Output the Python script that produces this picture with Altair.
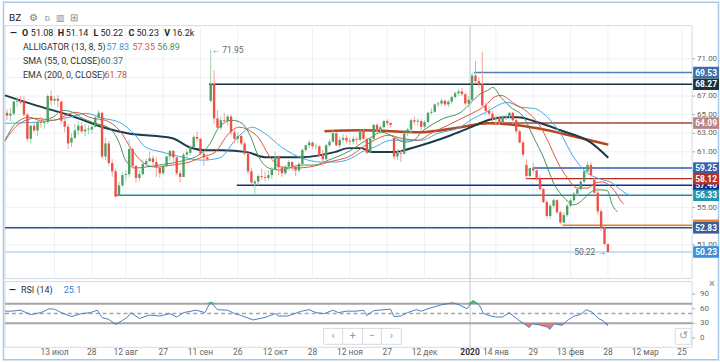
import altair as alt
import pandas as pd

# ---------------- data ----------------
OPEN = [65.2, 64.9, 65.1, 66.4, 66.5, 66.5, 65.0, 62.4, 63.8, 63.3,
        64.2, 64.1, 64.2, 67.0, 66.5, 66.7, 66.4, 64.3, 63.7, 62.0,
        62.5, 63.3, 63.8, 63.2, 63.4, 63.4, 63.7, 64.7, 65.2, 60.5,
        61.9, 59.8, 58.9, 56.3, 57.4, 58.5, 58.6, 61.3, 59.5, 58.2,
        58.6, 59.7, 60.0, 60.3, 59.9, 59.3, 58.7, 59.5, 60.5, 61.1,
        60.4, 58.7, 58.3, 60.7, 60.9, 61.5, 62.6, 62.4, 60.8, 60.4,
        66.5, 68.3, 64.6, 63.6, 64.4, 64.3, 64.8, 63.1, 62.4, 62.7,
        61.9, 60.8, 58.9, 57.6, 57.8, 58.4, 58.3, 58.2, 58.5, 59.1,
        60.5, 59.3, 58.7, 59.4, 59.9, 59.4, 59.0, 59.7, 61.2, 61.7,
        62.0, 61.6, 61.6, 60.6, 60.2, 61.7, 62.1, 63.0, 61.7, 62.3,
        62.5, 62.2, 62.1, 62.4, 62.3, 63.3, 62.4, 60.9, 62.4, 63.9,
        63.4, 63.65, 64.3, 64.1, 62.5, 60.5, 60.9, 60.8, 63.0, 63.4,
        64.4, 64.25, 64.3, 63.7, 64.2, 65.2, 65.3, 66.1, 66.2, 66.5,
        66.1, 66.4, 66.9, 67.3, 67.5, 67.2, 66.2, 66.6, 69.2, 68.6,
        68.3, 66.0, 65.4, 65.1, 64.5, 64.6, 64.2, 64.7, 64.85, 65.2,
        64.4, 63.2, 62.0, 59.6, 58.4, 59.2, 59.0, 58.2, 57.0, 55.6,
        54.1, 55.2, 55.8, 54.5, 53.4, 54.2, 55.2, 55.8, 56.5, 57.0,
        57.8, 58.9, 59.6, 58.0, 56.6, 54.6, 52.8, 51.08]
HIGH = [65.6, 65.7, 66.6, 66.9, 67.0, 67.0, 65.2, 63.9, 64.1, 64.5,
        64.8, 64.5, 67.2, 67.6, 67.0, 67.1, 66.5, 64.7, 64.0, 63.0,
        64.0, 64.3, 64.2, 64.0, 63.9, 64.0, 65.0, 65.5, 65.3, 62.5,
        62.2, 60.2, 59.2, 57.8, 58.8, 59.0, 62.3, 61.4, 59.5, 59.0,
        60.2, 60.3, 61.0, 60.6, 60.4, 59.5, 59.7, 60.6, 61.2, 61.2,
        60.4, 59.0, 60.9, 61.3, 61.7, 62.8, 63.2, 62.5, 61.0, 60.8,
        71.95, 69.8, 65.5, 64.8, 65.2, 65.0, 65.0, 63.3, 63.1, 62.9,
        62.1, 60.9, 59.3, 58.0, 58.6, 59.2, 58.9, 59.0, 59.4, 61.0,
        60.6, 59.5, 59.6, 60.1, 60.0, 59.6, 59.9, 61.4, 61.8, 62.3,
        62.1, 61.9, 61.7, 61.2, 61.9, 62.4, 63.4, 63.1, 62.6, 62.9,
        62.8, 62.5, 62.7, 62.6, 63.4, 63.5, 62.5, 62.5, 64.0, 64.1,
        63.8, 64.4, 64.5, 64.2, 62.7, 61.3, 61.2, 63.1, 63.6, 64.6,
        64.8, 64.6, 64.5, 64.4, 65.3, 65.7, 66.2, 66.4, 66.7, 66.6,
        66.6, 67.0, 67.5, 67.8, 67.9, 67.3, 67.0, 69.5, 70.8, 69.0,
        71.75, 66.3, 65.9, 65.4, 64.9, 64.8, 64.9, 65.0, 65.3, 65.3,
        64.6, 63.4, 62.2, 60.2, 59.3, 59.8, 59.1, 58.5, 57.1, 55.8,
        55.4, 56.0, 55.9, 54.7, 54.5, 55.4, 56.0, 56.7, 57.2, 58.0,
        59.0, 59.9, 59.9, 58.2, 57.1, 54.8, 53.0, 51.14]
LOW = [64.4, 64.3, 64.9, 65.8, 66.1, 64.8, 62.1, 61.9, 63.1, 62.7,
       63.6, 63.5, 64.0, 66.0, 66.1, 65.8, 64.0, 63.1, 61.3, 61.5,
       62.4, 62.8, 63.0, 62.7, 62.9, 62.9, 63.6, 64.4, 60.3, 60.1,
       59.5, 58.3, 56.1, 56.2, 57.2, 57.9, 58.3, 59.2, 57.7, 57.8,
       58.5, 59.4, 59.9, 59.5, 58.3, 58.2, 58.5, 59.4, 60.0, 59.9,
       58.5, 57.7, 58.3, 60.2, 60.6, 61.4, 62.1, 60.6, 59.5, 60.0,
       66.3, 64.0, 63.4, 63.3, 64.0, 63.8, 62.8, 61.9, 62.0, 61.7,
       60.6, 58.6, 57.5, 56.5, 57.4, 58.0, 57.8, 57.9, 58.1, 59.0,
       58.5, 58.3, 58.5, 59.0, 59.0, 58.4, 58.8, 59.3, 61.0, 61.4,
       61.3, 61.2, 60.4, 59.5, 60.1, 61.5, 62.0, 61.6, 61.4, 62.0,
       61.9, 61.7, 61.8, 61.7, 62.1, 62.3, 60.7, 60.8, 62.3, 63.0,
       63.1, 63.5, 63.8, 63.6, 60.2, 60.1, 59.9, 60.7, 62.7, 63.0,
       63.9, 63.8, 63.3, 63.5, 64.1, 65.0, 65.2, 65.8, 65.9, 65.9,
       65.8, 66.2, 66.7, 67.0, 67.0, 66.0, 65.8, 66.4, 68.4, 67.9,
       65.7, 65.0, 64.9, 64.2, 64.0, 63.9, 64.1, 64.4, 64.6, 64.0,
       63.0, 61.9, 60.5, 58.1, 58.1, 58.7, 57.9, 56.8, 55.5, 53.9,
       53.8, 54.9, 54.3, 53.2, 53.3, 54.0, 55.0, 55.5, 56.2, 56.8,
       57.6, 58.7, 58.3, 56.4, 54.2, 52.5, 50.9, 50.22]
CLOSE = [64.9, 65.1, 66.4, 66.5, 66.3, 65.0, 62.4, 63.8, 63.3, 64.2,
         64.1, 64.2, 67.0, 66.5, 66.7, 66.5, 64.35, 63.7, 61.9, 62.5,
         63.3, 63.8, 63.2, 63.4, 63.5, 63.7, 64.7, 65.2, 60.5, 61.9,
         59.8, 58.9, 56.2, 57.4, 58.5, 58.6, 61.3, 59.5, 58.2, 58.6,
         59.7, 60.0, 60.3, 59.9, 59.3, 58.7, 59.5, 60.5, 61.1, 60.4,
         58.7, 58.3, 60.7, 60.95, 61.5, 62.6, 62.4, 60.8, 60.4, 60.2,
         68.3, 64.6, 63.6, 64.4, 64.3, 64.8, 63.1, 62.4, 62.7, 61.9,
         60.8, 58.9, 57.7, 57.8, 58.4, 58.3, 58.2, 58.5, 59.1, 60.5,
         59.35, 58.7, 59.4, 59.9, 59.4, 59.0, 59.7, 61.2, 61.7, 62.0,
         61.6, 61.65, 60.6, 60.2, 61.7, 62.1, 63.0, 61.7, 62.3, 62.5,
         62.2, 62.1, 62.4, 62.3, 63.3, 62.4, 60.9, 62.4, 63.9, 63.4,
         63.65, 64.3, 64.1, 63.9, 60.5, 60.9, 60.8, 62.96, 63.4, 64.4,
         64.25, 64.35, 63.7, 64.2, 65.2, 65.3, 66.1, 66.2, 66.5, 66.1,
         66.4, 66.9, 67.3, 67.5, 67.2, 66.2, 66.6, 69.2, 68.6, 68.3,
         66.0, 65.4, 65.1, 64.5, 64.6, 64.2, 64.7, 64.85, 65.2, 64.4,
         63.2, 62.0, 60.7, 58.4, 59.25, 59.0, 58.2, 57.0, 55.6, 54.1,
         55.2, 55.8, 54.5, 53.4, 54.2, 55.2, 55.8, 56.5, 57.0, 57.8,
         58.9, 59.6, 58.5, 56.6, 54.6, 52.8, 51.1, 50.23]

JAW_I = [-0.6, 8.5, 13.5, 18.5, 23.2, 28.2, 33.1, 37.8, 40.8, 45.7, 51.6, 57.5, 62.5, 67.2, 69.2,
         72.1, 75.9, 80.9, 86.8, 92.7, 96.5, 101.5, 104.4, 108.2, 113.2, 117, 122, 127, 132.8,
         137.5, 141, 147.5, 151.3, 155.1, 159.2, 163, 166.9, 171, 173.9, 175.7, 177.7, 179.8,
         181.6, 183.6]
JAW_V = [64.07, 64.18, 64.39, 64.72, 65.14, 64.61, 64.18, 62.79, 61.5, 60.97, 60.43, 60.11, 60.33,
         62.25, 63.0, 63.65, 63.0, 61.5, 60.33, 59.9, 59.9, 60.33, 60.97, 61.5, 62.25, 62.25, 62.25,
         63.0, 63.54, 64.61, 65.25, 66.32, 65.79, 65.68, 64.72, 63.0, 60.43, 58.72, 58.18, 57.97,
         57.76, 57.22, 56.69, 56.26]
TEETH_I = [-0.6, 3.8, 8.5, 13.5, 20.2, 25.2, 29, 33.1, 36.9, 39.9, 43.7, 48.7, 53.7, 57.5, 61.3,
           65.4, 68.3, 71.3, 74.2, 77.1, 80.9, 84.8, 88.9, 94.7, 101.5, 104.4, 108.2, 112.3, 116.1,
           121.1, 124.9, 129.9, 134.6, 138.7, 141, 143.4, 145.5, 149.3, 153.4, 157.2, 159.2, 162.2,
           165.1, 168, 171, 173.3, 175.4, 177.2, 179.2, 180.6, 181.6]
TEETH_V = [62.2, 64.07, 64.61, 64.39, 65.25, 64.61, 64.39, 63.32, 61.18, 59.9, 59.36, 59.58, 59.9,
           60.43, 60.97, 63.0, 63.65, 63.32, 62.47, 60.65, 59.36, 59.26, 59.36, 59.9, 60.65, 61.4,
           62.25, 62.79, 62.47, 62.25, 63.0, 63.86, 64.72, 65.46, 66.0, 66.86, 67.07, 66.21, 65.25,
           63.65, 62.25, 59.9, 58.18, 57.11, 57.11, 57.65, 57.76, 57.44, 56.69, 55.83, 55.4]
LIPS_I = [-0.6, 2.6, 6.7, 9.7, 13.5, 16.4, 19.4, 22.3, 26.1, 30.2, 33.1, 34.9, 37.8, 40.8, 44.9,
          48.7, 52.5, 55.4, 59.5, 62.5, 66.3, 69.2, 71.3, 74.2, 77.1, 80.9, 83.9, 86.8, 90.6, 94.7,
          98.5, 102.3, 104.4, 107.3, 110.3, 114.1, 117, 119.9, 122, 124, 128.7, 133.7, 136.7,
          139.6, 141.6, 143.1, 145.5, 148.4, 152.2, 155.1, 158.1, 161, 163.9, 166.9, 168.9, 171,
          173.3, 175.4, 176.9, 178.3, 179.8]
LIPS_V = [62.2, 64.07, 64.72, 64.39, 64.72, 65.46, 65.25, 64.61, 64.07, 63.54, 61.93, 60.11, 59.26,
          59.36, 59.58, 59.79, 60.11, 60.43, 61.72, 63.65, 64.39, 64.07, 63.0, 60.43, 59.26, 59.04,
          59.36, 59.58, 59.58, 60.11, 60.65, 61.4, 61.93, 62.57, 63.11, 62.57, 62.04, 62.25, 63.11,
          63.65, 64.61, 65.25, 66.32, 67.28, 67.61, 67.93, 66.86, 65.79, 64.72, 62.57, 60.33,
          57.65, 56.15, 55.3, 55.62, 56.36, 56.9, 56.9, 56.8, 55.3, 54.55]
SMA_I = [-0.6, 8.5, 18.5, 28.2, 35.5, 48.7, 53.7, 58.4, 63.3, 70.7, 75.9, 86.8, 96.5, 100.6, 104.4,
         107.3, 114.1, 117, 124, 130.8, 136.7, 141.6, 146.3, 150.4, 156.3, 163, 171.8, 177.1]
SMA_V = [67.07, 66.0, 64.93, 63.65, 63.0, 62.47, 61.5, 61.18, 61.18, 60.97, 60.43, 60.43, 60.97,
         61.4, 61.4, 60.97, 60.97, 61.18, 61.93, 62.79, 63.65, 64.39, 64.72, 64.72, 64.18, 63.32,
         62.04, 60.37]
EMA_I = [93.5, 104.4, 122, 133.7, 141.6, 150.4, 159.2, 168, 177.1]
EMA_V = [63.22, 63.32, 63.11, 63.65, 64.07, 63.86, 63.32, 62.57, 61.78]

RSI_I = [-0.6, 1.5, 4, 7, 10, 12.5, 14, 16, 19, 22, 24.6, 26.6, 28, 30, 32, 34, 35.5, 36.5, 39,
         42, 45, 48, 50, 52, 55.7, 58.3, 60, 62, 65, 67, 69, 72.5, 76, 79, 80, 82.7, 86.8, 89,
         91, 93.5, 96, 97.6, 100, 103, 105, 106, 108, 111, 113, 114, 116, 118, 120.6, 122, 124,
         126, 127.9, 131.3, 133.2, 135.5, 137.3, 139.1, 140.4, 142, 144, 146, 147.9, 150.8, 152.3,
         153.8, 154.7, 156.7, 159.1, 159.9, 161.1, 163.5, 164.5, 165.5, 167, 168.9, 170.6, 172.3,
         174.3, 175.8, 177]
RSI_V = [55, 55, 57, 48, 52, 60, 59, 52, 44, 50, 52, 57, 42, 38, 28, 36, 43, 52, 40, 47, 45, 50,
         43, 52, 57, 52, 74, 58, 57, 50, 46, 37, 42, 50, 45, 45, 55, 58, 52, 50, 57, 52, 55, 55,
         57, 46, 56, 58, 59, 44, 45, 52, 58, 55, 60, 64, 68, 72, 68, 60, 77, 67, 50, 46, 43, 43,
         52, 36, 29.4, 21.3, 29, 27, 22.5, 17.8, 29, 26, 33, 38, 45, 48, 58, 53, 40, 34, 25.1]

# horizontal levels, drawn in this order (later ones on top)
LEVEL_P = [57.40, 69.53, 68.27, 64.09, 59.25, 58.12, 56.33, 53.10, 52.83, 50.23]
LEVEL_S = [67.7, 137.5, 59.5, 141.9, 154.8, 152.8, 31.7, 163.6, -0.59, -0.59]
LEVEL_TEXT = ["57.40", "69.53", "68.27", "64.09", "59.25", "58.12", "56.33", "", "52.83", "50.23"]
LEVEL_LINE = ["#0d2f94", "#4f7fb8", "#17323d", "#a0473a", "#2a5db0", "#b52a25", "#1f8ba3",
              "#e8812a", "#2f5594", "#b9d3ee"]
LEVEL_BOX = ["#0d2f94", "#3e6fa8", "#17323d", "#b98583", "#2f63b0", "#b7312c", "#2596ad",
             "#e8812a", "#3a5c99", "#3d8fdc"]

PRICE_TICKS = [51, 53, 55, 57, 59, 61, 63, 65, 67, 69, 71]
PRICE_LABELED = [51, 55, 61, 63, 65, 67, 71]
XTICK_POS = [14, 25, 35, 46, 57, 68, 79, 90, 101, 112, 123, 136.4, 144, 155, 166, 177, 188, 198.8]
XTICK_LABEL = ["13 июл", "28", "12 авг", "27", "11 сен", "26", "12 окт", "28", "12 ноя", "27",
               "12 дек", "2020", "14 янв", "29", "13 фев", "28", "12 мар", "25"]
YEAR_POS = [136.4]
RSI_BANDS = [70, 30]
RSI_MID = [50]
RSI_TICKS = [0, 30, 60, 90]

# ---------------- layout ----------------
W, HM, GAP, HR = 690, 254, 3, 66
HT = HM + GAP + HR
R0 = HM + GAP
XD = [-0.59, 201.8]
YD = [47.37, 74.57]
RD = [-19.2, 115.7]
FONT = "Roboto"
xs = alt.Scale(domain=XD, nice=False, zero=False)
ys = alt.Scale(domain=YD, range=[HM, 0], nice=False, zero=False)
rs = alt.Scale(domain=RD, range=[HT, R0], nice=False, zero=False)
G_BODY, G_WICK = "#4f9e63", "#9fd1ab"
R_BODY, R_WICK = "#ef5046", "#f5a29c"


def X(f="i"):
    return alt.X(f"{f}:Q", scale=xs, axis=None)


def Y(f):
    return alt.Y(f"{f}:Q", scale=ys, axis=None)


def RY(f):
    return alt.Y(f"{f}:Q", scale=rs, axis=None)


ONE = pd.DataFrame({"k": [0]})


def label(x, y, t, color="#333", size=9, weight="normal", align="left"):
    return alt.Chart(ONE).mark_text(
        text=t, align=align, baseline="middle", font=FONT, fontSize=size, fontWeight=weight,
        color=color).encode(x=alt.value(x), y=alt.value(y))


def box(x1, x2, y1, y2, stroke, fill="white", sw=1.0, fo=1.0):
    return alt.Chart(ONE).mark_rect(fill=fill, fillOpacity=fo, stroke=stroke, strokeWidth=sw).encode(
        x=alt.value(x1), x2=alt.value(x2), y=alt.value(y1), y2=alt.value(y2))


cd = pd.DataFrame(dict(i=list(range(len(OPEN))), o=OPEN, h=HIGH, l=LOW, c=CLOSE))
up = "datum.c >= datum.o"

layers = []
# outer frame + panel frames
layers.append(box(-1.5, 716.5, -23.5, 335.5, "#a9c7e6", fo=0.0, sw=1.5))
layers.append(box(0, W, 0, HM, "#d3dbe3", fo=0.0))
layers.append(box(0, W, R0, HT, "#d3dbe3", fo=0.0))

# grids
pt = pd.DataFrame({"p": PRICE_TICKS})
pl = pd.DataFrame({"p": PRICE_LABELED, "t": [f"{v:.2f}" for v in PRICE_LABELED]})
layers.append(alt.Chart(pt).mark_rule(color="#edf0f4").encode(
    y=Y("p"), x=alt.value(0), x2=alt.value(W)))
layers.append(alt.Chart(pd.DataFrame({"x": XTICK_POS})).mark_rule(color="#edf0f4").encode(
    x=X("x"), y=alt.value(0), y2=alt.value(HM)))
layers.append(alt.Chart(pd.DataFrame({"x": YEAR_POS})).mark_rule(color="#c4c8cc").encode(
    x=X("x"), y=alt.value(0), y2=alt.value(HT)))

# price axis ticks + labels
layers.append(alt.Chart(pt).mark_rule(color="#aaa").encode(
    y=Y("p"), x=alt.value(W), x2=alt.value(W + 3)))
layers.append(alt.Chart(pl).mark_text(align="left", baseline="middle", fontSize=8, font=FONT,
                                      color="#666").encode(
    y=Y("p"), x=alt.value(W + 5), text="t:N"))

# horizontal level lines
lv = pd.DataFrame(dict(p=LEVEL_P, s=LEVEL_S, e=[XD[1]] * len(LEVEL_P), lc=LEVEL_LINE,
                       bc=LEVEL_BOX, t=LEVEL_TEXT))
layers.append(alt.Chart(lv).mark_rule(strokeWidth=1.5).encode(
    x=X("s"), x2="e:Q", y=Y("p"), color=alt.Color("lc:N", scale=None)))


def line(ii, vv, color, width):
    return alt.Chart(pd.DataFrame(dict(i=ii, v=vv))).mark_line(
        color=color, strokeWidth=width, interpolate="monotone").encode(x=X(), y=Y("v"))


layers += [line(EMA_I, EMA_V, "#b5461d", 2.5), line(SMA_I, SMA_V, "#1c3b4b", 2),
           line(JAW_I, JAW_V, "#45a7e0", 1), line(TEETH_I, TEETH_V, "#e0553c", 1),
           line(LIPS_I, LIPS_V, "#4a8f57", 1)]

# candles
layers.append(alt.Chart(cd).mark_rule(strokeWidth=1).encode(
    x=X(), y=Y("l"), y2="h:Q",
    color=alt.condition(up, alt.value(G_WICK), alt.value(R_WICK))))
layers.append(alt.Chart(cd).mark_rule(strokeWidth=2.4).encode(
    x=X(), y=Y("o"), y2="c:Q",
    color=alt.condition(up, alt.value(G_BODY), alt.value(R_BODY))))

# price boxes: one box + text per level so that later ones cover earlier ones
for k in range(len(LEVEL_P)):
    one = lv.iloc[[k]]
    layers.append(alt.Chart(one).transform_calculate(
        lo="datum.p - 0.62", hi="datum.p + 0.62").mark_rect().encode(
        x=alt.value(W + 1), x2=alt.value(W + 27), y=Y("lo"), y2="hi:Q",
        color=alt.Color("bc:N", scale=None)))
    if LEVEL_TEXT[k]:
        layers.append(alt.Chart(one).mark_text(
            color="white", fontSize=8.5, font=FONT, fontWeight="bold", baseline="middle").encode(
            x=alt.value(W + 14), y=Y("p"), text="t:N"))

# annotations
layers.append(alt.Chart(pd.DataFrame(dict(i=[60], p=[71.95], t=["← 71.95"]))).mark_text(
    align="left", dx=1, fontSize=8.5, color="#666", font=FONT).encode(x=X(), y=Y("p"), text="t:N"))
layers.append(alt.Chart(pd.DataFrame(dict(i=[177], p=[50.22], t=["50.22 →"]))).mark_text(
    align="right", dx=-2, fontSize=8.5, color="#666", font=FONT).encode(x=X(), y=Y("p"), text="t:N"))

# header / legend
layers += [
    label(4, -8, "BZ", "#222", 10),
    label(24, -8, "⚙", "#777", 10),
    label(40, -7, "D", "#888", 8),
    label(51, -8, "▥", "#888", 9),
    label(65, -8, "⊞", "#888", 10),
    label(5, 7, "—", "#222", 9, "bold"),
    label(17, 7, "O", "#222", 9, "bold"), label(26, 7, "51.08", "#222", 9),
    label(53, 7, "H", "#222", 9, "bold"), label(61, 7, "51.14", "#222", 9),
    label(89, 7, "L", "#222", 9, "bold"), label(96, 7, "50.22", "#222", 9),
    label(124, 7, "C", "#222", 9, "bold"), label(132, 7, "50.23", "#222", 9),
    label(160, 7, "V", "#222", 9, "bold"), label(168, 7, "16.2k", "#222", 9),
    label(18, 21, "ALLIGATOR (13, 8, 5)"), label(102, 21, "57.83", "#2f9ad8"),
    label(128, 21, "57.35", "#e0553c"), label(153, 21, "56.89", "#4a8f57"),
    label(18, 36, "SMA (55, 0, CLOSE)"), label(96, 36, "60.37", "#3f6c80"),
    label(18, 50, "EMA (200, 0, CLOSE)"), label(100, 50, "61.78", "#c0582a"),
]

# ---------------- RSI panel ----------------
rd = pd.DataFrame(dict(i=RSI_I, v=RSI_V))
layers.append(alt.Chart(pd.DataFrame({"p": RSI_BANDS})).mark_rule(color="#a6a6a6", strokeWidth=2).encode(
    y=RY("p"), x=alt.value(0), x2=alt.value(W)))
layers.append(alt.Chart(pd.DataFrame({"p": RSI_MID})).mark_rule(
    color="#a6a6a6", strokeWidth=1.5, strokeDash=[4, 3]).encode(y=RY("p"), x=alt.value(0), x2=alt.value(W)))
layers.append(alt.Chart(rd).transform_calculate(a="min(datum.v, 30)", b="30").mark_area(
    color="#ec6b64", opacity=0.9).encode(x=X(), y=RY("a"), y2="b:Q"))
layers.append(alt.Chart(rd).transform_calculate(a="max(datum.v, 70)", b="70").mark_area(
    color="#3fbf5a", opacity=0.9).encode(x=X(), y=RY("a"), y2="b:Q"))
layers.append(alt.Chart(rd).mark_line(color="#4a7fc2", strokeWidth=1).encode(x=X(), y=RY("v")))

rt = pd.DataFrame({"p": RSI_TICKS, "t": [str(v) for v in RSI_TICKS]})
layers.append(alt.Chart(rt).mark_rule(color="#aaa").encode(
    y=RY("p"), x=alt.value(W), x2=alt.value(W + 3)))
layers.append(alt.Chart(rt).mark_text(align="left", baseline="middle", fontSize=8, font=FONT,
                                      color="#666").encode(y=RY("p"), x=alt.value(W + 8), text="t:N"))

xl = pd.DataFrame(dict(x=XTICK_POS, t=XTICK_LABEL))
layers.append(alt.Chart(xl).transform_filter("datum.t != '2020'").mark_text(
    fontSize=8.5, font=FONT, baseline="middle", color="#666").encode(
    x=X("x"), y=alt.value(HT + 5), text="t:N"))
layers.append(alt.Chart(xl).transform_filter("datum.t == '2020'").mark_text(
    fontSize=8.5, font=FONT, baseline="middle", color="#333", fontWeight="bold").encode(
    x=X("x"), y=alt.value(HT + 5), text="t:N"))

layers += [
    label(4, R0 + 8, "—", "#222", 9, "bold"),
    label(16, R0 + 8, "RSI (14)", "#333", 9),
    label(59, R0 + 8, "25.1", "#2f7fcf", 9),
    label(707, R0 + 2, "×", "#888", 11),
]
for x1, x2, t in [(320, 339, "‹"), (339, 359, "+"), (359, 378, "−"), (378, 398, "›"), (673, 689, "↺")]:
    layers.append(box(x1, x2, R0 + 47, R0 + 63, "#d5dbe1"))
    layers.append(label((x1 + x2) / 2, R0 + 55, t, "#999", 11, align="center"))

chart = alt.layer(*layers).resolve_scale(y="independent").properties(
    width=W, height=HT, padding=0, background="white"
).configure_view(strokeWidth=0)

chart.save("out.html", embed_options={"renderer": "svg", "actions": False})
